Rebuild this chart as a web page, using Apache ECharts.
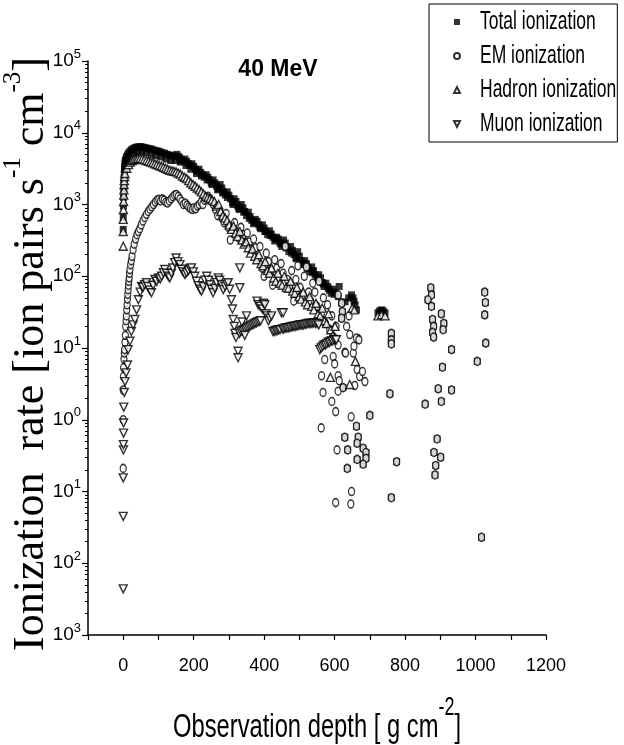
<!DOCTYPE html>
<html>
<head>
<meta charset="utf-8">
<script src="https://cdn.jsdelivr.net/npm/echarts@6.0.0/dist/echarts.min.js"></script>
<style>
  html, body { margin: 0; padding: 0; background: #fff; }
  #chart { width: 624px; height: 745px; }
</style>
</head>
<body>
<div id="chart"></div>
<script>
// depth [g cm^-2], rate [ion pairs s^-1 cm^-3]
const totalIonization = [
  [0, 450], [0, 660], [0.5, 950], [1, 1250], [1.5, 1600], [2, 1950], [2.5, 2300], [3, 2700], [3.5, 3100], [4, 3400],
  [5, 3800], [6, 4100], [7, 4200], [9, 4600], [12, 4900], [15, 5200], [19, 5500], [23, 5800], [28, 6000], [33, 6200],
  [38, 6300], [44, 6400], [50, 6400], [56, 6300], [62, 6200], [68, 6100], [75, 6000], [82, 5900], [89, 5700], [96, 5600],
  [103, 5500], [110, 5300], [117, 5200], [124, 5000], [131, 4900], [138, 4800], [145, 4700], [152, 5000], [156, 4700],
  [160, 4500], [165, 4200], [170, 4000], [175, 4300], [180, 4000], [185, 3700], [190, 3500], [195, 3700], [200, 3400],
  [205, 3100], [210, 2900], [215, 3100], [220, 2800], [225, 2600], [230, 2400], [235, 2600], [240, 2400], [245, 2200],
  [250, 2000], [255, 2200], [260, 2000], [265, 1800], [270, 1650], [275, 1900], [280, 1700], [285, 1500], [290, 1350],
  [295, 1500], [300, 1350], [305, 1200], [310, 1050], [315, 1200], [320, 1100], [325, 950], [330, 850], [335, 1000],
  [340, 900], [345, 800], [350, 700], [355, 780], [360, 680], [365, 600], [370, 540], [375, 620], [380, 580], [385, 520],
  [390, 460], [395, 520], [400, 470], [405, 420], [410, 380], [415, 430], [420, 390], [425, 350], [430, 310], [435, 350],
  [440, 330], [445, 290], [450, 260], [455, 320], [460, 290], [465, 250], [470, 220], [475, 260], [480, 230], [485, 200],
  [490, 180], [495, 220], [500, 190], [505, 165], [510, 145], [515, 165], [520, 150], [525, 130], [530, 115], [535, 135],
  [540, 120], [545, 105], [550, 92], [555, 105], [560, 95], [565, 82], [570, 72], [575, 80], [580, 72], [585, 64],
  [590, 58], [595, 66], [600, 60], [610, 52], [613, 72], [620, 42], [622, 32], [620, 26], [630, 44], [640, 50],
  [648, 55], [652, 50], [655, 45], [658, 40], [662, 34],
  [30, 5100], [41, 5400], [53, 5500], [65, 5300], [79, 5000], [93, 4800], [107, 4600], [121, 4300], [135, 4100],
  [148, 4100], [162, 3900], [178, 3500], [192, 3100], [208, 2700], [222, 2500], [238, 2200], [252, 1900], [268, 1600],
  [282, 1450], [296, 1250], [312, 1000], [328, 880], [342, 780], [358, 640], [372, 560], [388, 480], [402, 420],
  [418, 370], [432, 330], [448, 280], [462, 250], [478, 210], [492, 175], [508, 150], [522, 130], [538, 112], [552, 95],
  [568, 78], [582, 68], [598, 56],
  [723, 31], [728, 33], [733, 34], [738, 33], [743, 31],
  [624, 2.8], [629, 0.57], [637, 0.38], [636, 0.21], [662, 0.81], [667, 0.57], [664, 0.47], [681, 0.40], [689, 0.35],
  [689, 0.29], [664, 0.28], [681, 0.24], [700, 1.15],
  [761, 16], [761, 13], [761, 11.4], [757, 2.3], [776, 0.26], [761, 0.082],
  [873, 69], [875, 55], [865, 47], [875, 38], [878, 25], [881, 20], [878, 16.5], [881, 14.2], [903, 30], [910, 22],
  [908, 18], [932, 9.5], [906, 5.4], [894, 2.7], [932, 2.6], [903, 1.8], [857, 1.65], [891, 0.54], [882, 0.35],
  [901, 0.30], [887, 0.23], [885, 0.17],
  [1026, 60], [1028, 43], [1026, 29], [1029, 11.7], [1005, 6.5], [1017, 0.023]
];

const emIonization = [
  [0, 0.21], [0, 1.0], [0, 2.6], [0.5, 4], [1, 5.3], [2, 7], [3, 8.5], [4, 9.5], [5, 12], [6, 15], [7, 20], [8, 24],
  [9, 28], [10, 34], [11, 40], [12, 48], [13, 56], [14, 65], [15, 75], [16, 85], [17, 95], [18, 110], [19, 124],
  [21, 145], [23, 165], [25, 190], [28, 235], [31, 280], [35, 330], [39, 380], [43, 420], [47, 460], [51, 520],
  [56, 590], [61, 660], [66, 730], [71, 800], [76, 860], [81, 930], [86, 1000], [91, 1080], [96, 1150], [101, 1180],
  [106, 1120], [111, 1200], [116, 1150], [121, 1080], [126, 1050], [131, 1120], [136, 1200], [141, 1280], [146, 1350],
  [151, 1380], [156, 1300], [161, 1200], [166, 1100], [171, 1000], [176, 1050], [181, 980], [186, 920], [191, 880],
  [196, 850], [201, 900], [206, 870], [211, 950], [216, 1000], [221, 1080], [226, 1000], [231, 1150], [236, 1250],
  [241, 1300], [246, 1200], [251, 1100],
  [256, 1000], [262, 850], [268, 700], [274, 800], [280, 650], [286, 560], [292, 750], [298, 480], [304, 320],
  [310, 450], [316, 560], [322, 420], [328, 340], [334, 480], [340, 380], [346, 290], [352, 400], [358, 300],
  [364, 240], [370, 330], [376, 250], [382, 180], [388, 260], [394, 130], [400, 100], [406, 210], [412, 160],
  [418, 120], [424, 75], [430, 170], [436, 130], [442, 95], [448, 150], [454, 110], [460, 260], [466, 90], [472, 70],
  [478, 120], [484, 45], [490, 90], [496, 140], [502, 70], [508, 55], [514, 100], [520, 135], [526, 60], [532, 45],
  [538, 80], [544, 60], [550, 38], [556, 85], [562, 30], [568, 50], [574, 22], [580, 40], [586, 18], [592, 28],
  [598, 14], [604, 20], [610, 11],
  [563, 4.1], [610, 4.1], [613, 3.5], [567, 2.4], [610, 2.5], [657, 3.0], [664, 5.0], [671, 4.0], [679, 4.7],
  [686, 3.4], [592, 1.8], [603, 1.3], [562, 0.77], [647, 1.1], [607, 0.38], [648, 0.10], [603, 0.070], [646, 0.067],
  [572, 6.9], [596, 7.6], [600, 6.0], [629, 8.7], [631, 8.5], [653, 8.5], [655, 10.6], [667, 13.4], [662, 13.8],
  [669, 13], [610, 55], [641, 28], [634, 20], [643, 15.4],
  [620, 42], [622, 32], [620, 26],
  [624, 2.8], [629, 0.57], [637, 0.38], [636, 0.21], [662, 0.81], [667, 0.57], [664, 0.47], [681, 0.40], [689, 0.35],
  [689, 0.29], [664, 0.28], [681, 0.24], [700, 1.15],
  [761, 16], [761, 13], [761, 11.4], [757, 2.3], [776, 0.26], [761, 0.082],
  [873, 69], [875, 55], [865, 47], [875, 38], [878, 25], [881, 20], [878, 16.5], [881, 14.2], [903, 30], [910, 22],
  [908, 18], [932, 9.5], [906, 5.4], [894, 2.7], [932, 2.6], [903, 1.8], [857, 1.65], [891, 0.54], [882, 0.35],
  [901, 0.30], [887, 0.23], [885, 0.17],
  [1026, 60], [1028, 43], [1026, 29], [1029, 11.7], [1005, 6.5], [1017, 0.023]
];

const hadronIonization = [
  [0, 262], [0, 420], [0, 620], [0.5, 850], [1, 1100], [1.5, 1350], [2, 1600], [2.5, 1900], [3, 2150], [4, 2450],
  [5, 2700], [10, 3200], [15, 3600], [20, 3900], [25, 4100], [30, 4200], [36, 4300], [42, 4400], [48, 4400],
  [54, 4300], [60, 4200], [66, 4100], [72, 4000], [78, 3900], [84, 3800], [90, 3700], [96, 3600], [102, 3500],
  [108, 3400], [114, 3300], [120, 3200], [126, 3100], [132, 3000], [138, 2950], [144, 2900], [150, 2850], [156, 2750],
  [162, 2650], [168, 2500], [174, 2400], [180, 2300], [186, 2150], [192, 2000], [198, 1900], [204, 1800], [210, 1700],
  [216, 1600], [222, 1500], [228, 1400], [234, 1300], [240, 1250], [246, 1200], [252, 1150],
  [259, 1100], [265, 950], [271, 1000], [277, 800], [283, 700], [289, 650], [295, 600], [301, 520], [307, 450],
  [313, 500], [319, 400], [325, 360], [331, 420], [337, 320], [343, 280], [349, 300], [355, 250], [361, 210],
  [367, 240], [373, 190], [379, 170], [385, 200], [391, 150], [397, 140], [403, 160], [409, 120], [415, 110],
  [421, 130], [427, 95], [433, 85], [439, 110], [445, 80], [451, 75], [457, 100], [463, 70], [469, 68], [475, 85],
  [481, 62], [487, 58], [493, 70], [499, 52], [505, 48], [511, 60], [517, 44], [523, 40], [529, 52], [535, 38],
  [541, 34], [547, 42], [553, 30], [559, 28], [565, 36], [571, 24], [577, 22], [583, 30], [589, 18], [595, 15],
  [601, 20],
  [588, 3.9], [643, 3.1], [659, 6.5], [650, 36], [656, 34], [723, 28], [733, 29], [743, 28]
];

const muonIonization = [
  [0, 0.0044], [0, 0.045], [0, 0.155], [0.5, 0.38], [0.5, 0.45], [0.8, 0.65], [1, 0.9], [1.5, 1.5], [3, 2.4],
  [5, 3.4], [8, 4.5], [12, 5.8], [14, 9.5], [19, 12.4], [23, 17], [28, 21], [33, 25], [38, 34], [43, 47], [48, 60],
  [52, 72], [56, 70], [61, 76], [66, 81], [70, 72], [75, 64], [80, 59], [85, 75], [90, 90], [95, 85], [100, 95],
  [105, 92], [109, 100], [114, 112], [118, 124], [123, 110], [128, 100], [132, 95], [137, 110], [141, 130], [146, 155],
  [150, 180], [155, 160], [161, 145], [166, 125], [170, 115], [175, 106], [180, 112], [185, 120], [190, 128],
  [194, 131], [199, 115], [203, 100], [208, 85], [213, 74], [218, 66], [222, 62], [227, 72], [232, 88], [237, 100],
  [242, 88], [246, 76], [251, 66], [255, 59], [260, 68], [265, 82], [270, 95], [274, 88], [279, 76], [284, 65],
  [289, 72], [294, 78], [298, 81], [302, 66], [307, 47], [310, 35], [312, 25], [315, 20], [317, 16], [320, 14],
  [326, 9], [326, 7.3], [331, 131], [331, 69],
  [330, 16], [334, 17], [338, 17.5], [342, 18], [346, 18.5], [350, 19], [354, 19.5], [358, 20], [362, 20.5],
  [366, 21], [370, 21.5], [374, 22], [378, 22.5], [382, 23], [386, 23.5], [390, 24],
  [337, 23], [345, 15], [350, 28], [380, 45], [383, 40], [389, 38], [395, 35], [398, 42], [402, 40], [405, 30],
  [408, 28], [412, 24], [416, 26], [421, 28], [449, 31], [454, 31],
  [425, 17], [429, 17], [433, 17.5], [437, 17.5], [441, 18], [445, 18], [452, 18.5], [456, 18.5], [460, 19],
  [464, 19], [468, 19], [472, 19.5], [476, 19.5], [480, 20], [484, 20], [488, 20], [492, 20.5], [496, 20.5],
  [500, 21], [504, 21], [508, 21], [512, 21], [516, 21.5], [520, 21.5], [524, 22], [528, 22], [532, 22], [536, 22],
  [540, 22.5], [545, 22], [550, 22], [555, 21],
  [558, 9.5], [562, 10], [566, 10.5], [570, 11], [574, 11], [578, 11.5], [582, 12], [586, 12], [590, 12.5],
  [594, 12.5], [598, 13], [602, 13], [605, 13]
];

const seriesNames = ['Total ionization', 'EM ionization', 'Hadron ionization', 'Muon ionization'];
const depthLabels = [0, 200, 400, 600, 800, 1000, 1200];

const sans = '"Liberation Sans", Arial, sans-serif';
const serif = '"Liberation Serif", "Times New Roman", serif';

// log minor tick positions 2..9 x 10^k
const minorTicks = [];
for (let k = -3; k < 5; k++) {
  for (let m = 2; m <= 9; m++) minorTicks.push(m * Math.pow(10, k));
}

const chart = echarts.init(document.getElementById('chart'));

// condensed texts (legend labels, axis titles) drawn as graphic text
const legendTexts = seriesNames.map((name, i) => ({
  type: 'text',
  x: 480,
  y: 22 + i * 34,
  scaleX: 0.7,
  silent: true,
  style: { text: name, font: '25px ' + sans, fill: '#000', textVerticalAlign: 'middle' }
}));

const openMarker = { color: '#fff', borderColor: '#000', borderWidth: 1.4 };

const option = {
  animation: false,
  backgroundColor: '#fff',
  title: {
    text: '40 MeV',
    left: 273,
    top: 53,
    textAlign: 'center',
    textStyle: { fontFamily: sans, fontSize: 23, fontWeight: 'bold', color: '#000' }
  },
  legend: {
    data: [
      { name: seriesNames[0], icon: 'rect' },
      { name: seriesNames[1], icon: 'circle' },
      { name: seriesNames[2], icon: 'triangle' },
      { name: seriesNames[3], icon: 'path://M0,0 L10,0 L5,10 Z' }
    ],
    orient: 'vertical',
    left: 429,
    top: 4,
    padding: [6, 149, 6, 24],
    itemGap: 10,
    itemWidth: 6,
    itemHeight: 6,
    symbolRotate: 0,
    borderColor: '#000',
    borderWidth: 1,
    formatter: () => ' ',
    textStyle: { fontFamily: sans, fontSize: 12, lineHeight: 24, color: '#000' }
  },
  graphic: [
    ...legendTexts,
    {
      type: 'text',
      x: 317,
      y: 720,
      scaleX: 0.72,
      silent: true,
      style: {
        text: '{t|Observation depth [ g cm}{s|-2}{t|]}',
        textAlign: 'center',
        textVerticalAlign: 'middle',
        rich: {
          t: { fontFamily: sans, fontSize: 33, fill: '#000', lineHeight: 48, verticalAlign: 'bottom' },
          s: { fontFamily: sans, fontSize: 25, fill: '#000', lineHeight: 24, verticalAlign: 'top' }
        }
      }
    },
    {
      type: 'text',
      x: 27,
      y: 354,
      rotation: Math.PI / 2,
      silent: true,
      style: {
        text: '{t|Ionization  rate [ion pairs s}{s|-1}{t| cm}{s|-3}{t|]}',
        textAlign: 'center',
        textVerticalAlign: 'middle',
        rich: {
          t: { fontFamily: serif, fontSize: 44, fill: '#000', lineHeight: 52, verticalAlign: 'bottom' },
          s: { fontFamily: serif, fontSize: 25, fill: '#000', lineHeight: 24, verticalAlign: 'top' }
        }
      }
    }
  ],
  grid: { left: 88, right: 78, top: 61, bottom: 110, containLabel: false, outerBoundsMode: 'none' },
  xAxis: {
    type: 'value',
    min: -100,
    max: 1200,
    interval: 100,
    splitLine: { show: false },
    axisLine: { onZero: false, lineStyle: { color: '#000', width: 1.5 } },
    axisTick: { length: 5, lineStyle: { color: '#000', width: 1.2 } },
    axisLabel: {
      margin: 22,
      fontFamily: sans,
      fontSize: 18,
      color: '#000',
      formatter: v => (depthLabels.indexOf(v) >= 0 ? String(v) : '')
    }
  },
  yAxis: [
    {
      type: 'log',
      logBase: 10,
      min: 0.001,
      max: 100000,
      splitLine: { show: false },
      axisLine: { onZero: false, lineStyle: { color: '#000', width: 1.5 } },
      axisTick: { length: 6, lineStyle: { color: '#000', width: 1.2 } },
      axisLabel: {
        margin: 7,
        padding: [0, 0, 4, 0],
        formatter: v => {
          const e = Math.round(Math.log10(v));
          return '{b|10}{e|' + Math.abs(e) + '}';
        },
        rich: {
          b: { fontFamily: sans, fontSize: 19, color: '#000', lineHeight: 23, verticalAlign: 'bottom' },
          e: { fontFamily: sans, fontSize: 13, color: '#000', lineHeight: 13, verticalAlign: 'top' }
        }
      }
    },
    {
      type: 'log',
      logBase: 10,
      min: 0.001,
      max: 100000,
      position: 'left',
      splitLine: { show: false },
      axisLine: { show: false, onZero: false },
      axisLabel: { show: false },
      axisTick: { show: true, length: 3, customValues: minorTicks, lineStyle: { color: '#000', width: 1 } }
    }
  ],
  series: [
    {
      name: seriesNames[0],
      type: 'scatter',
      data: totalIonization,
      symbol: 'rect',
      symbolSize: 7,
      itemStyle: { color: '#000' }
    },
    {
      name: seriesNames[1],
      type: 'scatter',
      data: emIonization,
      symbol: 'circle',
      symbolSize: [6, 8],
      itemStyle: openMarker
    },
    {
      name: seriesNames[2],
      type: 'scatter',
      data: hadronIonization,
      symbol: 'triangle',
      symbolSize: 8,
      itemStyle: openMarker
    },
    {
      name: seriesNames[3],
      type: 'scatter',
      data: muonIonization,
      symbol: 'triangle',
      symbolRotate: 180,
      symbolSize: 8,
      itemStyle: openMarker
    }
  ]
};

chart.setOption(option);
</script>
</body>
</html>
